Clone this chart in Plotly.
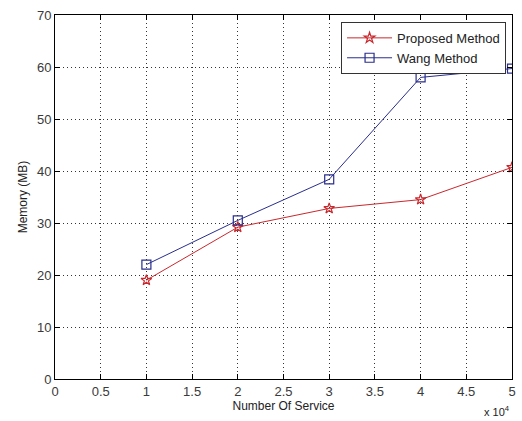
import plotly.graph_objects as go

# Number of services and memory usage (MB) for each method
services = [10000, 20000, 30000, 40000, 50000]
proposed_mb = [19.0, 29.2, 32.8, 34.5, 40.7]
wang_mb = [22.0, 30.5, 38.4, 58.0, 59.7]

x_tickvals = [0, 5000, 10000, 15000, 20000, 25000, 30000, 35000, 40000, 45000, 50000]
x_ticktext = ["0", "0.5", "1", "1.5", "2", "2.5", "3", "3.5", "4", "4.5", "5"]
y_tickvals = [0, 10, 20, 30, 40, 50, 60, 70]

FONT = "Liberation Sans, Arial, sans-serif"

fig = go.Figure()
fig.add_trace(go.Scatter(
    x=services, y=proposed_mb, name="Proposed Method",
    mode="lines+markers",
    line=dict(color="#c8282d", width=1),
    marker=dict(symbol="star-open", size=8, color="#c8282d", line=dict(width=1.2)),
))
fig.add_trace(go.Scatter(
    x=services, y=wang_mb, name="Wang Method",
    mode="lines+markers",
    line=dict(color="#2a2e8c", width=1),
    marker=dict(symbol="square-open", size=9, color="#2a2e8c", line=dict(width=1.2)),
))

axis_common = dict(
    showline=True, linecolor="black", linewidth=1, mirror="ticks",
    ticks="inside", ticklen=5, tickcolor="black",
    showgrid=True, gridcolor="#333333", griddash="1px,3px", gridwidth=1,
    zeroline=False,
    tickfont=dict(family=FONT, size=13, color="#3a3a3a"),
)

fig.update_xaxes(
    range=[0, 50000], tickvals=x_tickvals, ticktext=x_ticktext,
    title=dict(text="Number Of Service", font=dict(family=FONT, size=12, color="#222222"), standoff=2),
    **axis_common,
)
fig.update_yaxes(
    range=[0, 70], tickvals=y_tickvals,
    title=dict(text="Memory (MB)", font=dict(family=FONT, size=12, color="#222222"), standoff=6),
    **axis_common,
)

fig.add_annotation(
    text="x 10<sup>4</sup>", xref="paper", yref="paper", x=1.0, y=-0.062,
    xanchor="right", yanchor="top", showarrow=False,
    font=dict(family=FONT, size=11, color="#222222"),
)

fig.update_layout(
    width=522, height=421,
    margin=dict(l=55, r=6, t=15, b=42),
    paper_bgcolor="white", plot_bgcolor="white",
    font=dict(family=FONT, size=12, color="#222222"),
    showlegend=True,
    legend=dict(
        x=0.987, y=0.981, xanchor="right", yanchor="top",
        bgcolor="white", bordercolor="#333333", borderwidth=1,
        font=dict(family=FONT, size=13, color="#222222"),
        itemwidth=45, tracegroupgap=0,
    ),
)

fig.write_html("out.html")
